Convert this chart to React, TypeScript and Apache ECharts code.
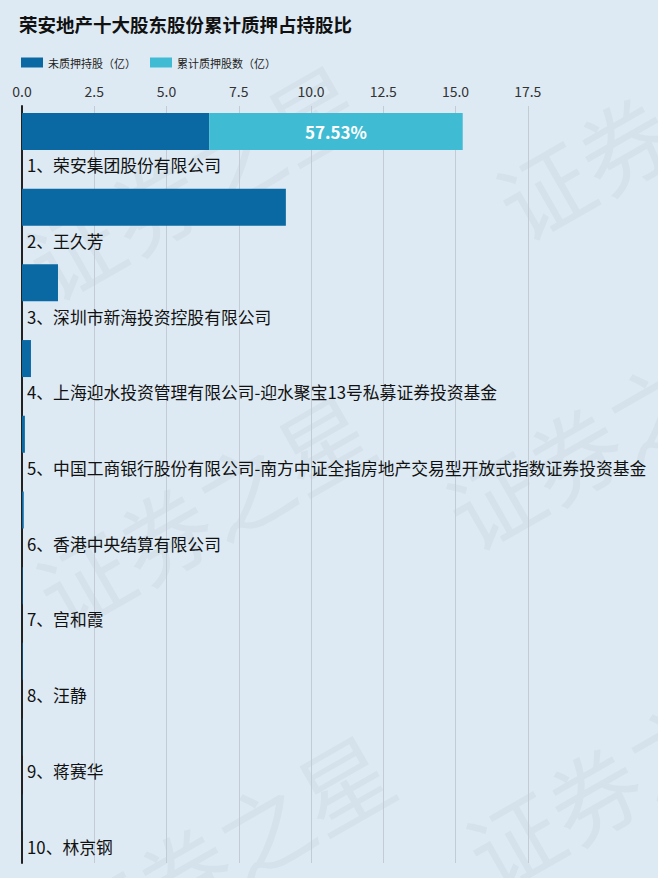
import React, { useEffect, useRef } from "react";
import * as echarts from "echarts";

const titleText = "荣安地产十大股东股份累计质押占持股比";
const legendNames = ["未质押持股（亿）", "累计质押股数（亿）"];
const holders = [
  "1、荣安集团股份有限公司",
  "2、王久芳",
  "3、深圳市新海投资控股有限公司",
  "4、上海迎水投资管理有限公司-迎水聚宝13号私募证券投资基金",
  "5、中国工商银行股份有限公司-南方中证全指房地产交易型开放式指数证券投资基金",
  "6、香港中央结算有限公司",
  "7、宫和霞",
  "8、汪静",
  "9、蒋赛华",
  "10、林京钢",
];
const unpledged = [6.477, 9.13, 1.245, 0.31, 0.1, 0.06, 0.02, 0.02, 0.01, 0.01];
const pledged = [8.773, 0, 0, 0, 0, 0, 0, 0, 0, 0];
const spacer = [0, 0, 0, 0, 0, 0, 0, 0, 0, 0];
const watermarks = [
  { x: 10, y: 230, r: 0.52 },
  { x: 480, y: 170, r: 0.52 },
  { x: 20, y: 560, r: 0.52 },
  { x: 430, y: 480, r: 0.52 },
  { x: 40, y: 900, r: 0.52 },
  { x: 450, y: 820, r: 0.52 },
];

const FONT = "'Noto Sans CJK SC', 'Noto Sans', sans-serif";

export default function App() {
  const ref = useRef<HTMLDivElement>(null);
  useEffect(() => {
    document.body.style.margin = "0";
    const chart = echarts.init(ref.current!, null, { renderer: "svg" });
    const wm = watermarks.map((w) => ({
      type: "text",
      x: w.x,
      y: w.y,
      rotation: w.r,
      silent: true,
      z: -10,
      style: {
        text: "证券之星",
        fontSize: 92,
        fontFamily: FONT,
        fill: "rgba(60,80,100,0.05)",
      },
    }));
    chart.setOption({
      animation: false,
      backgroundColor: "#deeaf3",
      textStyle: { fontFamily: FONT },
      title: {
        text: titleText,
        left: 14,
        top: 10,
        textStyle: { fontSize: 18.5, fontWeight: "bold", color: "#111", fontFamily: FONT },
      },
      graphic: wm,
      legend: {
        data: legendNames,
        left: 16,
        top: 52,
        itemWidth: 22,
        itemHeight: 10,
        itemGap: 14,
        icon: "rect",
        textStyle: { fontSize: 11, color: "#222", fontFamily: FONT },
      },
      grid: { left: 22, right: 58, top: 106, bottom: 15 },
      xAxis: {
        type: "value",
        position: "top",
        min: 0,
        max: 20,
        interval: 2.5,
        axisLine: { show: false },
        axisTick: { show: false },
        axisLabel: {
          fontSize: 14,
          color: "#333",
          margin: 8,
          showMaxLabel: false,
          formatter: (v: number) => v.toFixed(1),
        },
        splitLine: { show: true, showMaxLine: false, lineStyle: { color: "#c3ccd5", width: 1 } },
      },
      yAxis: {
        type: "category",
        inverse: true,
        data: holders,
        axisLine: { show: true, lineStyle: { color: "#222", width: 2 } },
        axisTick: { show: false },
        axisLabel: { show: false },
      },
      series: [
        {
          name: legendNames[0],
          type: "bar",
          stack: "a",
          barWidth: 37,
          barGap: "-33%",
          data: unpledged,
          itemStyle: { color: "#0a68a2" },
        },
        {
          name: legendNames[1],
          type: "bar",
          stack: "a",
          barWidth: 37,
          barGap: "-33%",
          data: pledged,
          itemStyle: { color: "#3fbcd4" },
          label: {
            show: true,
            position: "inside",
            color: "#fff",
            fontSize: 17,
            fontWeight: "bold",
            fontFamily: FONT,
            formatter: (p: any) => {
              const v = pledged[p.dataIndex];
              if (!v) return "";
              const total = v + unpledged[p.dataIndex];
              return ((v / total) * 100).toFixed(2) + "%";
            },
          },
        },
        {
          name: "spacer",
          type: "bar",
          barWidth: 37,
          barGap: "-33%",
          data: spacer,
          silent: true,
          itemStyle: { color: "rgba(0,0,0,0)" },
          label: {
            show: true,
            position: "right",
            distance: 5,
            offset: [0, 9],
            color: "#111",
            fontSize: 16.8,
            fontFamily: FONT,
            formatter: (p: any) => holders[p.dataIndex],
          },
        },
      ],
    });
    return () => chart.dispose();
  }, []);
  return <div ref={ref} style={{ width: 658, height: 878 }} />;
}
